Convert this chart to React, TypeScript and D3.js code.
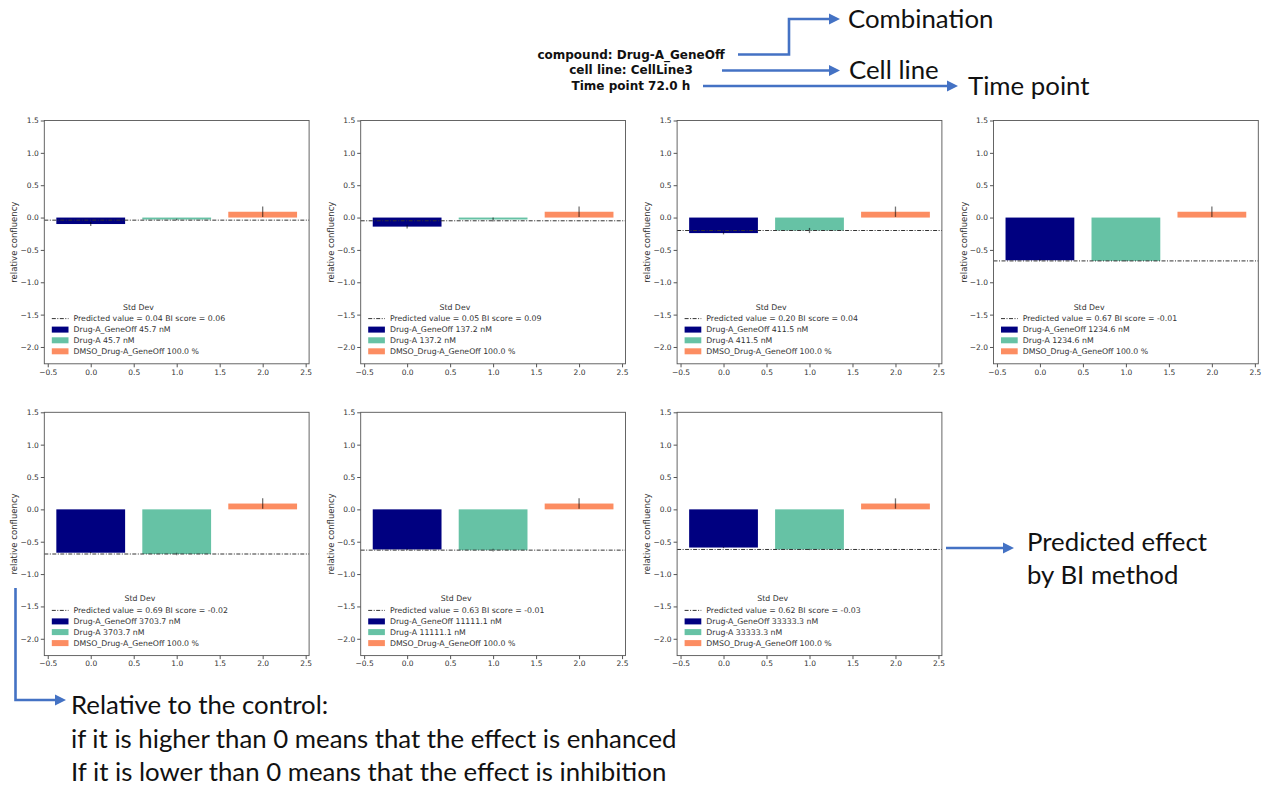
import React, { useRef, useEffect } from "react";
import * as d3 from "d3";

// concentrations of each panel (nM)
const concentrations = ["45.7", "137.2", "411.5", "1234.6", "3703.7", "11111.1", "33333.3"];
const predictedValues = [0.04, 0.05, 0.2, 0.67, 0.69, 0.63, 0.62];
const biScores = [0.06, 0.09, 0.04, -0.01, -0.02, -0.01, -0.03];

// bar values (relative confluency) and std dev
const comboValues = [-0.1, -0.14, -0.24, -0.66, -0.67, -0.62, -0.59];
const comboErr = [0.03, 0.03, 0.02, 0.01, 0.01, 0.01, 0.01];
const drugValues = [-0.03, -0.03, -0.2, -0.67, -0.69, -0.63, -0.62];
const drugErr = [0.01, 0.03, 0.04, 0.01, 0.02, 0.02, 0.01];
const controlValues = [0.09, 0.09, 0.09, 0.09, 0.09, 0.09, 0.09];
const controlErr = [0.08, 0.08, 0.08, 0.08, 0.08, 0.08, 0.08];

const xTicks = [-0.5, 0, 0.5, 1, 1.5, 2, 2.5];
const yTicks = [-2, -1.5, -1, -0.5, 0, 0.5, 1, 1.5];

const titleLines = ["compound: Drug-A_GeneOff", "cell line: CellLine3", "Time point 72.0 h"];
const noteLines = [
  "Relative to the control:",
  "if it is higher than 0 means that the effect is enhanced",
  "If it is lower than 0 means that the effect is inhibition",
];

const colors = ["#000080", "#66c2a5", "#fc8d62"];
const FONT = "DejaVu Sans, sans-serif";
const NOTE_FONT = "Lato, sans-serif";
const BLUE = "#4472C4";

const App = () => {
  const svgRef = useRef(null);

  useEffect(() => {
    const svg = d3.select(svgRef.current);
    svg.selectAll("*").remove();

    const W = 264.8;
    const H = 243.3;
    const colLeft = (c) => 44.3 + c * 316.4;
    const rowTop = [120.5, 412.3];

    concentrations.forEach((conc, i) => {
      const left = colLeft(i % 4);
      const top = rowTop[Math.floor(i / 4)];
      const x = d3.scaleLinear().domain([-0.54, 2.54]).range([left, left + W]);
      const y = d3.scaleLinear().domain([-2.26, 1.5]).range([top + H, top]);
      const g = svg.append("g");

      const bars = [
        { pos: 0, v: comboValues[i], e: comboErr[i], label: `Drug-A_GeneOff ${conc} nM` },
        { pos: 1, v: drugValues[i], e: drugErr[i], label: `Drug-A ${conc} nM` },
        { pos: 2, v: controlValues[i], e: controlErr[i], label: "DMSO_Drug-A_GeneOff 100.0 %" },
      ];

      g.selectAll("rect.bar")
        .data(bars)
        .enter()
        .append("rect")
        .attr("x", (d) => x(d.pos - 0.4))
        .attr("width", (d) => x(d.pos + 0.4) - x(d.pos - 0.4))
        .attr("y", (d) => y(Math.max(0, d.v)))
        .attr("height", (d) => Math.abs(y(d.v) - y(0)))
        .attr("fill", (d, k) => colors[k]);

      g.selectAll("line.err")
        .data(bars)
        .enter()
        .append("line")
        .attr("x1", (d) => x(d.pos))
        .attr("x2", (d) => x(d.pos))
        .attr("y1", (d) => y(d.v - d.e))
        .attr("y2", (d) => y(d.v + d.e))
        .attr("stroke", "#000")
        .attr("stroke-opacity", 0.55)
        .attr("stroke-width", 1.3);

      // predicted effect line
      g.append("line")
        .attr("x1", left)
        .attr("x2", left + W)
        .attr("y1", y(-predictedValues[i]))
        .attr("y2", y(-predictedValues[i]))
        .attr("stroke", "#333")
        .attr("stroke-width", 1)
        .attr("stroke-dasharray", "4,1.5,1,1.5");

      // frame
      g.append("rect")
        .attr("x", left)
        .attr("y", top)
        .attr("width", W)
        .attr("height", H)
        .attr("fill", "none")
        .attr("stroke", "#555")
        .attr("stroke-width", 0.9);

      const xAxis = g
        .append("g")
        .attr("transform", `translate(0,${top + H})`)
        .call(d3.axisBottom(x).tickValues(xTicks).tickFormat(d3.format(".1f")).tickSize(3.5).tickPadding(2));
      const yAxis = g
        .append("g")
        .attr("transform", `translate(${left},0)`)
        .call(d3.axisLeft(y).tickValues(yTicks).tickFormat(d3.format(".1f")).tickSize(3.5).tickPadding(2));
      [xAxis, yAxis].forEach((a) => {
        a.select(".domain").remove();
        a.selectAll("line").attr("stroke", "#555");
        a.selectAll("text").attr("fill", "#333").style("font-family", FONT).style("font-size", "7.5px");
      });

      g.append("text")
        .attr("transform", `translate(${left - 30},${top + H / 2}) rotate(-90)`)
        .attr("text-anchor", "middle")
        .attr("dominant-baseline", "central")
        .style("font-family", FONT)
        .style("font-size", "8.5px")
        .attr("fill", "#333")
        .text("relative confluency");

      // legend, lower left
      const bottom = top + H;
      const hx = left + 7.5;
      const tx = hx + 16.7 + 5;
      const rowY = [bottom - 45.2, bottom - 34.2, bottom - 23.5, bottom - 12.5];
      const lg = g.append("g");
      lg.append("line")
        .attr("x1", hx)
        .attr("x2", hx + 16.7)
        .attr("y1", rowY[0])
        .attr("y2", rowY[0])
        .attr("stroke", "#333")
        .attr("stroke-width", 1)
        .attr("stroke-dasharray", "4,1.5,1,1.5");
      bars.forEach((b, k) => {
        lg.append("rect")
          .attr("x", hx)
          .attr("y", rowY[k + 1] - 3)
          .attr("width", 16.7)
          .attr("height", 6)
          .attr("fill", colors[k]);
      });
      const labels = [
        `Predicted value = ${predictedValues[i].toFixed(2)} BI score = ${biScores[i].toFixed(2)}`,
        ...bars.map((b) => b.label),
      ];
      let maxEnd = tx;
      labels.forEach((t, k) => {
        const el = lg
          .append("text")
          .attr("x", tx)
          .attr("y", rowY[k])
          .attr("dominant-baseline", "central")
          .style("font-family", FONT)
          .style("font-size", "7.8px")
          .attr("fill", "#333")
          .text(t);
        maxEnd = Math.max(maxEnd, tx + el.node().getComputedTextLength());
      });
      lg.append("text")
        .attr("x", (hx + maxEnd) / 2)
        .attr("y", bottom - 56.8)
        .attr("text-anchor", "middle")
        .attr("dominant-baseline", "central")
        .style("font-family", FONT)
        .style("font-size", "7.8px")
        .attr("fill", "#333")
        .text("Std Dev");
    });

    // figure title
    titleLines.forEach((t, k) => {
      svg.append("text")
        .attr("x", 631)
        .attr("y", 54.5 + k * 15.5)
        .attr("text-anchor", "middle")
        .attr("dominant-baseline", "central")
        .style("font-family", FONT)
        .style("font-size", "12px")
        .style("font-weight", "bold")
        .attr("fill", "#111")
        .text(t);
    });

    // annotation arrows
    const arrow = (pts) => {
      const n = pts.length;
      const [x1, y1] = pts[n - 2];
      const [x2, y2] = pts[n - 1];
      const len = Math.hypot(x2 - x1, y2 - y1);
      const ux = (x2 - x1) / len;
      const uy = (y2 - y1) / len;
      const head = 11;
      const base = [x2 - ux * head, y2 - uy * head];
      const linePts = [...pts.slice(0, n - 1), base];
      svg.append("path")
        .attr("d", d3.line()(linePts))
        .attr("fill", "none")
        .attr("stroke", BLUE)
        .attr("stroke-width", 2.6);
      svg.append("path")
        .attr("d", d3.line()([[x2, y2], [base[0] - uy * 5.5, base[1] + ux * 5.5], [base[0] + uy * 5.5, base[1] - ux * 5.5]]) + "Z")
        .attr("fill", BLUE);
    };
    arrow([[738, 54.5], [789, 54.5], [789, 19], [840, 19]]);
    arrow([[722, 70.5], [840, 70.5]]);
    arrow([[703, 86], [958, 86]]);
    arrow([[946, 548], [1014, 548]]);
    arrow([[15.5, 588], [15.5, 700], [66, 700]]);

    const note = (t, xx, yy) =>
      svg.append("text")
        .attr("x", xx)
        .attr("y", yy)
        .attr("dominant-baseline", "central")
        .style("font-family", NOTE_FONT)
        .style("font-size", "25.8px")
        .attr("fill", "#111")
        .text(t);
    note("Combination", 848, 18);
    note("Cell line", 849, 69);
    note("Time point", 968, 85);
    note("Predicted effect", 1027, 541);
    note("by BI method", 1027, 574);
    noteLines.forEach((t, k) => note(t, 71, 704 + k * 33.5));
  }, []);

  return <svg ref={svgRef} width={1271} height={788} style={{ position: "absolute", left: 0, top: 0 }}></svg>;
};

export default App;
